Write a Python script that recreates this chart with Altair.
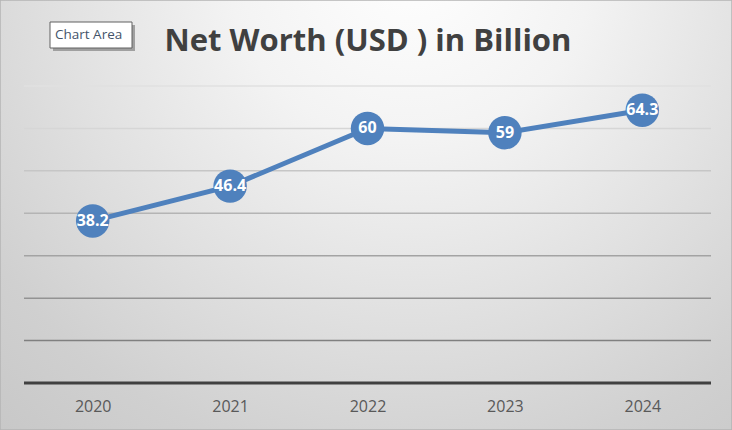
import altair as alt
import pandas as pd

years = ["2020", "2021", "2022", "2023", "2024"]
net_worth = [38.2, 46.4, 60, 59, 64.3]
grid_values = [10, 20, 30, 40, 50, 60, 70]
grid_colors = ["#808080", "#939393", "#a3a3a3", "#b4b4b4", "#c6c6c6", "#d6d6d6", "#e0e0e0"]
title_text = "Net Worth (USD ) in Billion"
tooltip_text = "Chart Area"

W, H = 687, 297
BLUE = "#4f81bd"

df = pd.DataFrame({"year": years, "value": net_worth})
grid_df = pd.DataFrame({"g": grid_values})
one = pd.DataFrame({"a": [0]})

yscale = alt.Scale(domain=[0, 70], nice=False, zero=True)
xscale = alt.Scale(type="point", padding=0.5)

bg_grad = alt.Gradient(
    gradient="radial",
    stops=[
        alt.GradientStop(color="#ffffff", offset=0),
        alt.GradientStop(color="#f3f3f3", offset=0.25),
        alt.GradientStop(color="#d0d0d0", offset=0.7),
        alt.GradientStop(color="#c0c0c0", offset=1),
    ],
    x1=0.56, y1=0.15, r1=0, x2=0.56, y2=0.15, r2=1.0,
)

bg = alt.Chart(one).mark_rect(fill=bg_grad, stroke="#b4b4b4", strokeWidth=1.5).encode(
    x=alt.value(-24), x2=alt.value(708), y=alt.value(-86), y2=alt.value(344)
)

grid = alt.Chart(grid_df).mark_rule(strokeWidth=1.5).encode(
    y=alt.Y("g:Q", scale=yscale, axis=None),
    color=alt.Color("g:O", scale=alt.Scale(domain=grid_values, range=grid_colors), legend=None),
)

base_rule = alt.Chart(one).mark_rule(color="#404040", strokeWidth=3).encode(
    y=alt.Y("a:Q", scale=yscale, axis=None)
)

xaxis = alt.Axis(title=None, labelAngle=0, ticks=False, domain=False, grid=False,
                 labelFontSize=16, labelColor="#595959", labelFont="Open Sans",
                 labelPadding=15, zindex=2)

line = alt.Chart(df).mark_line(color=BLUE, strokeWidth=5).encode(
    x=alt.X("year:N", scale=xscale, sort=years, axis=xaxis),
    y=alt.Y("value:Q", scale=yscale, axis=None),
)

points = alt.Chart(df).mark_circle(color=BLUE, opacity=1, size=1120).encode(
    x=alt.X("year:N", scale=xscale, sort=years, axis=xaxis),
    y=alt.Y("value:Q", scale=yscale, axis=None),
)

labels = alt.Chart(df).mark_text(color="white", fontWeight="bold", fontSize=16,
                                 font="Open Sans", baseline="middle", align="center").encode(
    x=alt.X("year:N", scale=xscale, sort=years, axis=xaxis),
    y=alt.Y("value:Q", scale=yscale, axis=None),
    text=alt.Text("value:Q"),
)

title = alt.Chart(one).mark_text(text=title_text, font="Open Sans", fontWeight="bold",
                                 fontSize=31, color="#404040", align="center",
                                 baseline="alphabetic").encode(
    x=alt.value(344), y=alt.value(-35)
)

tip_shadow = alt.Chart(one).mark_rect(fill="#a0a0a0").encode(
    x=alt.value(29), x2=alt.value(111), y=alt.value(-61), y2=alt.value(-35)
)
tip_box = alt.Chart(one).mark_rect(fill="white", stroke="#606060", strokeWidth=1).encode(
    x=alt.value(26), x2=alt.value(108), y=alt.value(-64), y2=alt.value(-38)
)
tip_text = alt.Chart(one).mark_text(text=tooltip_text, font="Open Sans", fontSize=13.5,
                                    color="#44546a", align="left", baseline="middle").encode(
    x=alt.value(31), y=alt.value(-51)
)

chart = alt.layer(bg, grid, base_rule, line, points, labels, title, tip_shadow, tip_box, tip_text).properties(
    width=W, height=H,
    autosize=alt.AutoSizeParams(type="none"),
    padding={"left": 24, "top": 86, "right": 21, "bottom": 47},
    background="#c8c8c8",
).configure_view(stroke=None).resolve_scale(color="independent")

chart.save("out.html", embed_options={"renderer": "svg", "actions": False})
